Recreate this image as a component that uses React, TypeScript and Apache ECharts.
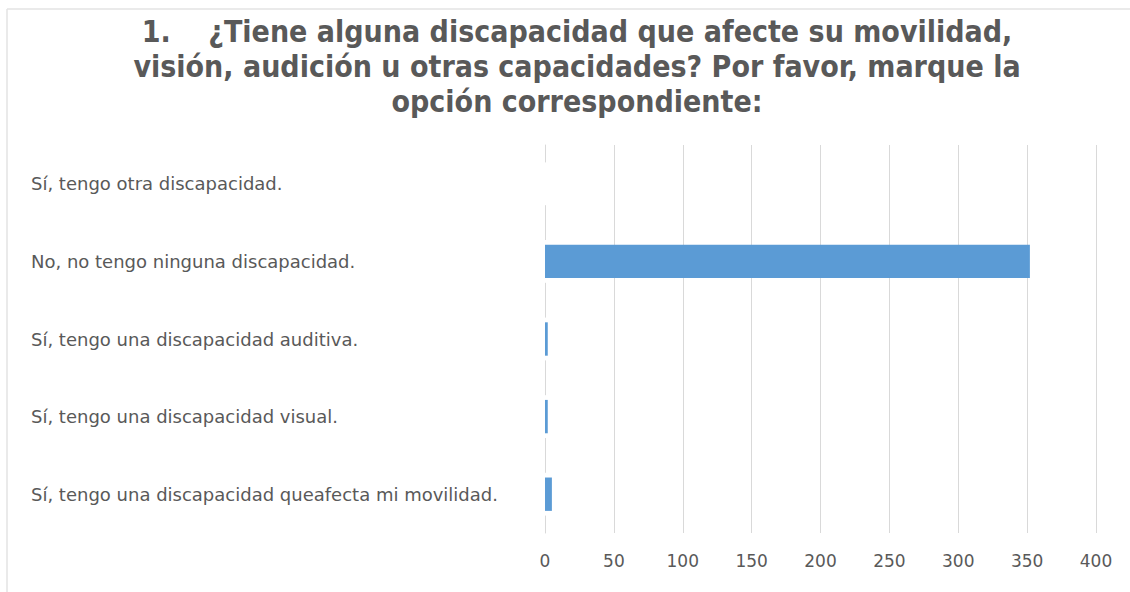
import React, { useEffect, useRef } from "react";
import * as echarts from "echarts";

const titleLines = [
  "1.\u00a0\u00a0\u00a0\u00a0¿Tiene alguna discapacidad que afecte su movilidad,",
  "visión, audición u otras capacidades? Por favor, marque la",
  "opción correspondiente:",
];

const categories = [
  "Sí, tengo una discapacidad queafecta mi movilidad.",
  "Sí, tengo una discapacidad visual.",
  "Sí, tengo una discapacidad auditiva.",
  "No, no tengo ninguna discapacidad.",
  "Sí, tengo otra discapacidad.",
];

const values = [5, 2, 2, 352, 0];

const xMin = 0;
const xMax = 400;
const xInterval = 50;

export default function App() {
  const ref = useRef<HTMLDivElement>(null);
  useEffect(() => {
    if (!ref.current) return;
    const chart = echarts.init(ref.current, null, { renderer: "svg" });
    const gridTop = 145;
    const gridHeight = 388;
    const band = gridHeight / categories.length;
    const seg = 34;
    chart.setOption({
      animation: false,
      backgroundColor: "#ffffff",
      title: {
        text: titleLines.join("\n"),
        left: 572,
        top: 9,
        textAlign: "center",
        textStyle: {
          fontFamily: "'Liberation Sans Narrow', 'DejaVu Sans Condensed', 'Liberation Sans', sans-serif",
          fontWeight: "bold",
          fontSize: 30,
          lineHeight: 35,
          color: "#595959",
        },
      },
      graphic: [
        { type: "line", shape: { x1: 7, y1: 9, x2: 1130, y2: 9 }, style: { stroke: "#e3e3e3", lineWidth: 1.5 } },
        { type: "line", shape: { x1: 7, y1: 9, x2: 7, y2: 592 }, style: { stroke: "#e3e3e3", lineWidth: 1.5 } },
      ],
      grid: { left: 545, right: 34, top: gridTop, height: gridHeight, containLabel: false },
      xAxis: {
        type: "value",
        min: xMin,
        max: xMax,
        interval: xInterval,
        axisLine: { show: false },
        axisTick: { show: false },
        axisLabel: {
          margin: 19,
          fontFamily: "'DejaVu Sans', sans-serif",
          fontSize: 17,
          color: "#595959",
        },
        splitLine: {
          show: true,
          showMinLine: false,
          lineStyle: { color: "#d9d9d9", width: 1 },
        },
      },
      yAxis: {
        type: "category",
        data: categories,
        axisTick: { show: false },
        axisLine: {
          show: true,
          lineStyle: {
            color: "#d9d9d9",
            width: 1,
            type: [seg, band - seg],
            dashOffset: seg / 2,
          },
        },
        axisLabel: {
          align: "left",
          margin: 514,
          fontFamily: "'DejaVu Sans', sans-serif",
          fontSize: 18,
          color: "#595959",
        },
      },
      series: [
        {
          type: "bar",
          data: values,
          barCategoryGap: "57%",
          itemStyle: { color: "#5b9bd5" },
        },
      ],
    });
    return () => chart.dispose();
  }, []);
  return (
    <div
      ref={ref}
      style={{ position: "fixed", left: 0, top: 0, width: 1130, height: 592 }}
    />
  );
}
